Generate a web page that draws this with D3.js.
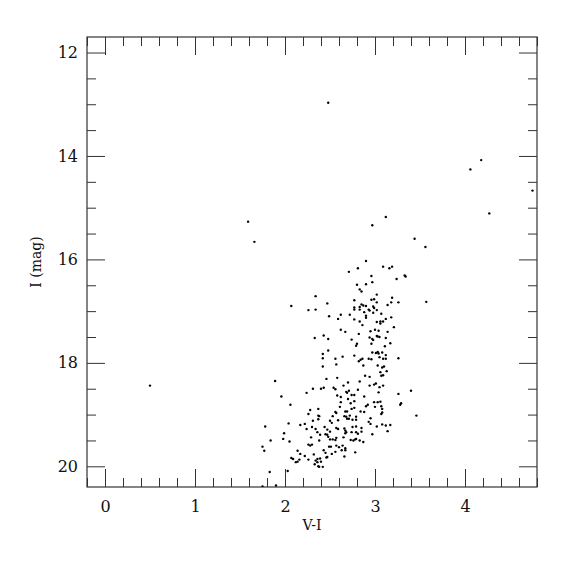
<!DOCTYPE html>
<html>
<head>
<meta charset="utf-8">
<script src="https://cdn.jsdelivr.net/npm/d3@7"></script>
<style>
    body { margin: 0; background: #fff; }
    text { font-family: "DejaVu Serif", "Liberation Serif", serif; fill: #111; }
</style>
</head>
<body>
<script>
// V-I colour, I magnitude for every star
const stars = [
    [4.18,14.08],[4.06,14.26],[4.75,14.67],[4.27,15.11],[3.12,15.18],[3.44,15.60],[3.56,15.76],
    [2.97,15.34],[1.59,15.27],[1.66,15.66],[0.50,18.44],[2.48,12.97],[3.57,16.82],[3.40,18.54],[3.46,19.02],
    [2.90,16.03],[2.71,16.24],[2.81,16.17],[3.09,16.14],[3.16,16.17],[3.19,16.14],[3.33,16.31],[3.34,16.33],
    [2.96,16.32],[3.24,16.38],[2.80,16.49],[2.90,16.48],[2.97,16.44],[2.83,16.58],[2.85,16.62],[3.02,16.68],
    [2.34,16.71],[3.19,16.74],[2.77,16.79],[2.96,16.78],[2.99,16.77],[3.02,16.83],[3.18,16.83],[3.26,16.83],
    [2.47,16.85],[2.07,16.90],[2.85,16.87],[2.87,16.89],[2.90,16.90],[2.77,16.93],[2.83,16.92],[2.98,16.91],
    [2.99,16.94],[3.14,16.88],[2.26,16.98],[2.34,16.97],[2.77,16.97],[2.83,16.97],[2.93,16.97],[2.94,16.99],
    [3.02,16.98],[2.88,17.02],[2.98,17.03],[3.07,17.05],[2.62,17.07],[2.49,17.10],[2.72,17.07],[2.90,17.09],
    [2.90,17.13],[3.18,17.12],[2.59,17.15],[2.77,17.16],[3.12,17.15],[2.83,17.20],[3.02,17.21],[3.06,17.20],
    [3.06,17.24],[3.09,17.20],[2.86,17.27],[3.21,17.31],[2.62,17.36],[2.67,17.40],[2.95,17.39],[3.00,17.36],
    [3.04,17.38],[2.82,17.44],[3.14,17.40],[3.02,17.48],[3.03,17.49],[3.05,17.50],[2.94,17.51],[2.97,17.54],
    [2.98,17.56],[2.33,17.52],[2.48,17.54],[2.43,17.47],[2.74,17.55],[3.12,17.52],[2.80,17.63],[2.79,17.67],
    [2.96,17.63],[3.17,17.62],[3.11,17.68],[2.48,17.76],[2.97,17.80],[3.01,17.81],[3.03,17.79],[3.04,17.82],
    [3.08,17.80],[2.42,17.83],[2.77,17.86],[2.64,17.88],[2.56,17.92],[2.86,17.92],[2.84,17.94],[2.93,17.92],
    [2.96,17.93],[3.05,17.89],[3.09,17.92],[3.12,17.92],[3.12,17.85],[2.42,17.91],[2.82,17.97],[3.26,17.91],
    [2.57,18.03],[3.03,18.05],[3.08,18.09],[3.10,18.07],[2.87,18.05],[2.42,18.07],[3.13,18.16],[3.06,18.18],
    [3.07,18.25],[3.09,18.24],[2.89,18.25],[2.94,18.27],[2.58,18.29],[2.46,18.31],
    [1.89,18.35],[2.70,18.38],[2.65,18.44],[2.83,18.36],[2.94,18.44],[2.99,18.42],[3.01,18.40],[3.09,18.44],
    [3.05,18.47],[2.24,18.58],[2.31,18.50],[2.40,18.50],[2.43,18.48],[2.54,18.48],[2.56,18.51],[2.68,18.56],
    [2.69,18.58],[2.71,18.54],[2.81,18.52],[1.96,18.65],[2.58,18.63],[2.62,18.66],[2.74,18.62],[2.77,18.62],
    [2.88,18.65],[3.04,18.57],[3.26,18.60],[2.70,18.70],[3.03,18.76],[3.06,18.75],[2.99,18.76],[3.29,18.78],
    [3.28,18.81],[2.06,18.81],[2.62,18.76],[2.73,18.78],[2.77,18.74],[2.92,18.81],[2.90,18.84],[3.00,18.85],
    [3.07,18.84],[3.08,18.89],[2.37,18.89],[2.28,18.91],[2.61,18.85],[2.74,18.89],[2.77,18.87],[2.67,18.94],
    [2.69,18.94],[2.56,18.95],[2.57,18.97],[2.84,18.94],[2.88,18.95],[3.08,18.96],[2.26,18.99],[2.37,19.02],
    [2.38,19.03],[2.53,19.03],[2.66,19.03],[2.68,19.04],[2.72,19.02],[2.79,19.04],[2.95,19.07],[3.07,18.99],
    [2.50,19.12],[2.52,19.16],[2.59,19.11],[2.69,19.08],[2.71,19.08],[2.75,19.10],[2.79,19.10],[2.31,19.12],
    [2.37,19.09],[2.04,19.17],[2.17,19.20],[2.22,19.18],[2.93,19.14],[2.95,19.18],[3.08,19.19],[3.12,19.21],
    [3.17,19.20],[3.02,19.23],[1.78,19.23],[2.24,19.28],[2.30,19.24],[2.34,19.28],[2.44,19.24],[2.47,19.29],
    [2.57,19.26],[2.59,19.28],[2.66,19.27],[2.67,19.31],[2.75,19.24],[2.79,19.23],[2.85,19.26],[3.14,19.32],
    [1.99,19.36],[2.36,19.34],[2.39,19.39],[2.45,19.38],[2.47,19.39],[2.50,19.33],[2.67,19.36],[2.68,19.34],
    [2.74,19.34],[2.79,19.34],[2.81,19.37],[2.85,19.33],[2.97,19.38],[2.29,19.44],[2.48,19.43],[2.50,19.48],
    [2.53,19.48],[2.56,19.49],[2.57,19.45],[2.65,19.44],[2.73,19.49],[2.76,19.50],[2.78,19.48],[2.79,19.47],
    [2.83,19.50],[2.87,19.53],[1.84,19.50],[1.98,19.47],[2.05,19.52],[2.26,19.58],[2.28,19.60],[2.30,19.58],
    [2.38,19.50],[2.49,19.62],[2.51,19.62],[2.57,19.60],[2.60,19.63],[2.64,19.60],[2.67,19.65],[2.67,19.69],
    [2.63,19.69],[2.78,19.73],[1.75,19.62],[1.77,19.70],[2.14,19.70],[2.17,19.76],[2.22,19.80],[2.32,19.77],
    [2.43,19.69],[2.45,19.74],[2.46,19.83],[2.47,19.82],[2.52,19.76],[2.56,19.72],[2.66,19.81],[2.07,19.84],
    [2.09,19.86],[2.12,19.92],[2.14,19.91],[2.16,19.87],[2.26,19.87],[2.34,19.89],[2.36,19.92],[2.36,19.86],
    [2.39,19.85],[2.40,19.91],[2.33,19.96],[2.42,20.01],[2.38,20.01],[2.37,20.00],[2.03,20.09],[1.83,20.11],
    [1.90,20.37],[1.75,20.39]
]

const xMajor = [0, 1, 2, 3, 4]
const yMajor = [12, 14, 16, 18, 20]
const xLabel = "V-I"
const yLabel = "I (mag)"

const margin = { top: 37, right: 38, bottom: 88, left: 87 },
    width = 575 - margin.left - margin.right,
    height = 575 - margin.top - margin.bottom;

const svg = d3.select("body")
    .append("svg")
    .attr("width", 575)
    .attr("height", 575)
    .append("g")
    .attr("transform", `translate(${margin.left},${margin.top})`);

const x = d3.scaleLinear().domain([-0.2, 4.8]).range([0, width])
const y = d3.scaleLinear().domain([11.7, 20.4]).range([0, height])

const xMinor = d3.range(-0.2, 4.81, 0.2).map(d => +d.toFixed(1)).filter(d => !xMajor.includes(d))
const yMinor = d3.range(12, 20.41, 0.5).filter(d => !yMajor.includes(d))

// ticks point inward on all four sides
function ticks(axisFn, scale, values, size, transform, labels, pad) {
    const g = svg.append("g")
        .attr("transform", transform)
        .call(axisFn(scale).tickValues(values).tickSizeInner(-size).tickSizeOuter(0)
            .tickPadding(pad || 3)
            .tickFormat(labels ? d3.format("d") : ""))
    g.select(".domain").remove()
    g.selectAll("line").attr("stroke", "#333")
    g.selectAll("text").style("font-size", "16px").attr("fill", "#111")
    return g
}

ticks(d3.axisBottom, x, xMajor, 18, `translate(0,${height})`, true, 14)
ticks(d3.axisBottom, x, xMinor, 9, `translate(0,${height})`)
ticks(d3.axisTop, x, xMajor, 18, "translate(0,0)")
ticks(d3.axisTop, x, xMinor, 9, "translate(0,0)")
ticks(d3.axisLeft, y, yMajor, 18, "translate(0,0)", true, 9)
ticks(d3.axisLeft, y, yMinor, 9, "translate(0,0)")
ticks(d3.axisRight, y, yMajor, 18, `translate(${width},0)`)
ticks(d3.axisRight, y, yMinor, 9, `translate(${width},0)`)

svg.append("rect")
    .attr("width", width)
    .attr("height", height)
    .attr("fill", "none")
    .attr("stroke", "#333")
    .attr("stroke-width", 1.2)

svg.append("clipPath").attr("id", "clip")
    .append("rect").attr("width", width).attr("height", height)

svg.append("g")
    .attr("clip-path", "url(#clip)")
    .selectAll("circle")
    .data(stars)
    .join("circle")
    .attr("cx", d => x(d[0]))
    .attr("cy", d => y(d[1]))
    .attr("r", 1.2)
    .attr("fill", "#000")

svg.append("text")
    .attr("x", width / 2)
    .attr("y", height + 43)
    .attr("text-anchor", "middle")
    .style("font-size", "14px")
    .text(xLabel)

svg.append("text")
    .attr("transform", `translate(-46,${height / 2}) rotate(-90)`)
    .attr("text-anchor", "middle")
    .style("font-size", "14px")
    .text(yLabel)
</script>
</body>
</html>
